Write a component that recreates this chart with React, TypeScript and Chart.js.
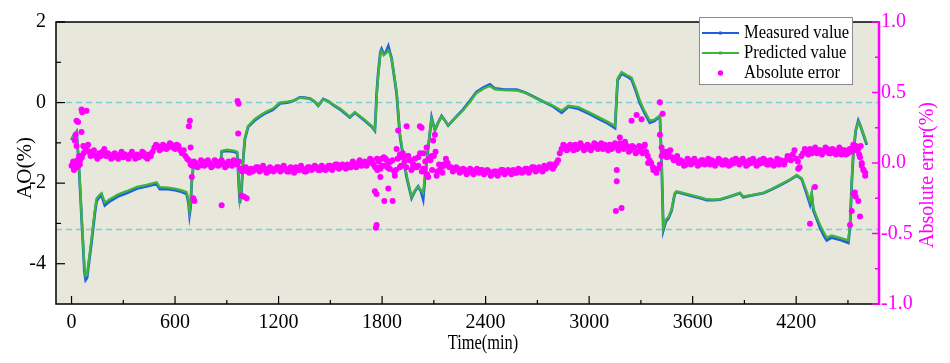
import React, { useEffect, useRef } from 'react';
import { Chart, registerables } from 'chart.js';
Chart.register(...registerables);

// ---------- data ----------
const lineT = [0, 10, 29, 40, 48, 60, 75, 82, 90, 100, 115, 125, 135, 145, 160, 174, 193, 222, 268, 319, 380, 435, 493, 512, 560, 607, 640, 667, 678, 684, 690, 696, 705, 760, 820, 865, 870, 900, 940, 960, 968, 975, 985, 995, 1005, 1024, 1060, 1092, 1130, 1167, 1208, 1250, 1285, 1323, 1350, 1382, 1410, 1430, 1459, 1490, 1517, 1560, 1613, 1642, 1700, 1740, 1758, 1763, 1768, 1777, 1790, 1797, 1810, 1822, 1836, 1845, 1855, 1870, 1884, 1903, 1920, 1942, 1971, 1990, 2009, 2025, 2038, 2050, 2067, 2087, 2106, 2125, 2145, 2165, 2183, 2230, 2270, 2310, 2348, 2390, 2425, 2454, 2500, 2580, 2630, 2676, 2730, 2792, 2841, 2879, 2937, 3000, 3063, 3110, 3150, 3158, 3165, 3188, 3220, 3246, 3270, 3294, 3320, 3352, 3380, 3410, 3420, 3430, 3445, 3459, 3478, 3490, 3497, 3507, 3550, 3604, 3650, 3681, 3720, 3758, 3820, 3874, 3893, 3950, 4009, 4060, 4106, 4160, 4203, 4232, 4260, 4280, 4290, 4300, 4320, 4338, 4360, 4377, 4406, 4450, 4502, 4512, 4522, 4531, 4545, 4560, 4570, 4590, 4609];

const measured = [-0.93, -0.85, -0.73, -1.40, -2.00, -3.00, -4.20, -4.40, -4.35, -4.00, -3.50, -3.13, -2.75, -2.45, -2.35, -2.30, -2.55, -2.45, -2.33, -2.25, -2.13, -2.08, -2.02, -2.15, -2.15, -2.18, -2.22, -2.27, -2.50, -2.78, -2.60, -2.00, -1.62, -1.58, -1.55, -1.52, -1.22, -1.20, -1.22, -1.25, -1.90, -2.50, -2.20, -1.40, -0.90, -0.60, -0.45, -0.35, -0.25, -0.18, -0.02, 0.00, 0.04, 0.13, 0.12, 0.10, 0.02, -0.08, 0.09, 0.03, -0.06, -0.18, -0.37, -0.25, -0.45, -0.60, -0.70, -0.30, 0.20, 0.71, 1.25, 1.33, 1.20, 1.25, 1.40, 1.25, 1.10, 0.65, 0.23, -0.81, -1.30, -1.85, -2.37, -2.20, -2.08, -2.20, -2.40, -1.80, -1.13, -0.37, -0.69, -0.50, -0.33, -0.45, -0.57, -0.35, -0.17, 0.05, 0.27, 0.38, 0.45, 0.35, 0.33, 0.32, 0.25, 0.15, 0.03, -0.10, -0.25, -0.10, -0.15, -0.28, -0.42, -0.52, -0.63, 0.00, 0.55, 0.72, 0.65, 0.57, 0.30, -0.01, -0.25, -0.50, -0.45, -0.33, -1.50, -3.17, -2.95, -2.88, -2.68, -2.40, -2.26, -2.22, -2.27, -2.33, -2.38, -2.42, -2.42, -2.41, -2.33, -2.25, -2.35, -2.30, -2.25, -2.15, -2.05, -1.93, -1.81, -1.90, -2.25, -2.52, -2.28, -2.68, -2.90, -3.10, -3.30, -3.42, -3.35, -3.40, -3.48, -3.10, -2.00, -1.29, -0.70, -0.45, -0.55, -0.80, -1.05];

const predicted = [-0.90, -0.82, -0.72, -1.35, -1.95, -2.95, -4.10, -4.30, -4.28, -3.92, -3.42, -3.05, -2.68, -2.38, -2.30, -2.25, -2.48, -2.40, -2.28, -2.20, -2.09, -2.04, -1.98, -2.10, -2.11, -2.14, -2.18, -2.22, -2.45, -2.70, -2.55, -1.98, -1.60, -1.56, -1.53, -1.50, -1.20, -1.17, -1.19, -1.22, -1.85, -2.42, -2.15, -1.38, -0.88, -0.58, -0.42, -0.32, -0.22, -0.15, 0.00, 0.02, 0.05, 0.12, 0.11, 0.10, 0.03, -0.07, 0.08, 0.03, -0.05, -0.16, -0.35, -0.24, -0.43, -0.58, -0.68, -0.35, 0.10, 0.65, 1.20, 1.28, 1.18, 1.22, 1.30, 1.22, 1.08, 0.68, 0.28, -0.75, -1.25, -1.80, -2.35, -2.18, -2.08, -2.18, -2.25, -1.75, -1.10, -0.40, -0.68, -0.50, -0.34, -0.45, -0.56, -0.36, -0.19, 0.02, 0.24, 0.35, 0.41, 0.33, 0.31, 0.30, 0.24, 0.14, 0.03, -0.08, -0.20, -0.08, -0.11, -0.24, -0.38, -0.48, -0.58, 0.05, 0.60, 0.76, 0.68, 0.62, 0.36, 0.05, -0.20, -0.45, -0.42, -0.32, -1.45, -3.12, -2.90, -2.85, -2.65, -2.38, -2.24, -2.20, -2.25, -2.31, -2.36, -2.40, -2.41, -2.40, -2.32, -2.24, -2.33, -2.29, -2.24, -2.14, -2.04, -1.92, -1.80, -1.88, -2.20, -2.45, -2.25, -2.62, -2.85, -3.03, -3.22, -3.35, -3.30, -3.35, -3.42, -3.05, -1.95, -1.25, -0.68, -0.48, -0.55, -0.78, -1.02];

// absolute error, one value every errStep minutes from errStart (A) and errStartB (B)
const errStart = 0;
const errStartB = 10;
const errStep = 20;
const errBand = [
  -0.02, 0.00, -0.02, 0.04, 0.10, 0.08, 0.06, 0.05, 0.07, 0.08,
  0.05, 0.06, 0.04, 0.05, 0.06, 0.04, 0.05, 0.06, 0.05, 0.06,
  0.05, 0.07, 0.03, 0.05, 0.11, 0.12, 0.10, 0.12, 0.11, 0.13,
  0.10, 0.12, 0.07, 0.05, 0.02, -0.02, 0.00, -0.02, 0.01, -0.01,
  0.00, -0.02, 0.01, -0.01, 0.00, -0.02, 0.00, 0.02, -0.01, -0.04,
  -0.05, -0.06, -0.04, -0.05, -0.03, -0.05, -0.04, -0.06, -0.04, -0.05,
  -0.03, -0.05, -0.04, -0.06, -0.04, -0.03, -0.05, -0.04, -0.06, -0.03,
  -0.04, -0.03, -0.05, -0.03, -0.04, -0.02, -0.03, -0.01, -0.03, -0.02,
  -0.01, -0.03, -0.01, 0.00, -0.02, 0.01, 0.00, 0.02, -0.03, 0.01,
  -0.02, 0.03, -0.04, 0.02, -0.05, 0.04, 0.07, -0.03, 0.02, -0.02,
  -0.03, 0.07, -0.04, -0.08, 0.02, 0.05, -0.06, -0.04, -0.02, 0.00,
  -0.03, -0.05, -0.04, -0.06, -0.05, -0.07, -0.05, -0.06, -0.07, -0.05,
  -0.07, -0.06, -0.08, -0.06, -0.07, -0.05, -0.07, -0.06, -0.05, -0.07,
  -0.05, -0.06, -0.04, -0.05, -0.03, -0.05, -0.04, -0.02, -0.03, -0.01,
  -0.02, 0.02, 0.10, 0.12, 0.10, 0.11, 0.13, 0.11, 0.12, 0.10,
  0.12, 0.11, 0.13, 0.12, 0.10, 0.12, 0.13, 0.11, 0.12, 0.14,
  0.10, 0.12, 0.09, 0.11, 0.08, 0.10, 0.12, 0.05, 0.00, -0.05,
  -0.04, 0.05, 0.07, 0.06, 0.04, 0.02, 0.00, 0.01, -0.01, 0.02,
  0.00, 0.01, -0.01, 0.02, 0.00, -0.01, 0.01, 0.00, 0.02, -0.01,
  0.01, -0.01, 0.00, 0.02, 0.00, 0.01, -0.01, 0.00, 0.01, -0.01,
  0.00, 0.02, -0.01, 0.01, 0.00, -0.01, 0.01, 0.02, 0.04, 0.06,
  0.03, -0.03, 0.07, 0.09, 0.10, 0.08, 0.07, 0.09, 0.08, 0.10,
  0.07, 0.09, 0.08, 0.06, 0.09, 0.07, 0.08, 0.12, 0.10, -0.02,
  -0.07,
];
const errBandB = [
  0.01, -0.03, 0.02, 0.07, 0.12, 0.05, 0.09, 0.03, 0.05, 0.10,
  0.07, 0.03, 0.07, 0.03, 0.08, 0.06, 0.03, 0.08, 0.03, 0.04,
  0.08, 0.04, 0.06, 0.08, 0.13, 0.09, 0.13, 0.10, 0.14, 0.11,
  0.13, 0.09, 0.09, 0.03, -0.01, 0.01, -0.03, 0.02, -0.02, 0.02,
  -0.03, 0.02, -0.02, 0.02, -0.03, 0.01, -0.02, 0.00, 0.01, -0.06,
  -0.03, -0.07, -0.06, -0.03, -0.06, -0.02, -0.07, -0.03, -0.06, -0.03,
  -0.06, -0.02, -0.06, -0.03, -0.07, -0.05, -0.02, -0.06, -0.03, -0.05,
  -0.02, -0.05, -0.02, -0.05, -0.02, -0.05, -0.01, -0.04, -0.01, -0.04,
  -0.03, 0.01, -0.03, 0.02, 0.00, -0.02, 0.03, -0.01, 0.03, -0.04,
  0.04, -0.03, 0.01, -0.06, 0.03, -0.02, 0.01, 0.05, -0.05, 0.03,
  0.04, -0.06, 0.01, 0.03, -0.05, 0.08, -0.01, -0.07, 0.03, -0.03,
  -0.06, -0.03, -0.07, -0.04, -0.08, -0.04, -0.08, -0.04, -0.05, -0.08,
  -0.05, -0.09, -0.06, -0.09, -0.05, -0.08, -0.05, -0.08, -0.07, -0.04,
  -0.07, -0.04, -0.07, -0.03, -0.06, -0.03, -0.06, -0.04, -0.01, -0.04,
  0.00, 0.07, 0.13, 0.09, 0.13, 0.09, 0.10, 0.14, 0.09, 0.13,
  0.09, 0.14, 0.10, 0.14, 0.13, 0.09, 0.10, 0.14, 0.09, 0.11,
  0.13, 0.08, 0.12, 0.07, 0.12, 0.07, 0.08, 0.02, -0.03, -0.07,
  -0.01, 0.08, 0.04, 0.09, 0.02, 0.05, 0.02, -0.02, 0.03, -0.01,
  0.03, -0.02, 0.02, -0.01, 0.03, 0.02, -0.02, 0.03, -0.01, 0.02,
  -0.02, 0.02, 0.03, -0.01, 0.03, -0.02, 0.02, 0.03, -0.02, 0.02,
  0.03, -0.01, 0.02, -0.02, 0.03, 0.02, -0.01, 0.05, 0.02, 0.09,
  0.01, 0.05, 0.10, 0.06, 0.07, 0.11, 0.09, 0.06, 0.11, 0.07,
  0.10, 0.06, 0.11, 0.09, 0.06, 0.10, 0.11, 0.09, 0.04, -0.05,
];

const errOutT = [9, 14, 19, 19, 24, 29, 29, 34, 38, 44, 48, 58, 58, 62, 68, 87, 96, 106,
  680, 686, 690, 697, 705, 712, 870, 962, 968, 966, 985, 1000, 1015,
  1758, 1764, 1768, 1768, 1772, 1787, 1790, 1797, 1807, 1813, 1826, 1836, 1836, 1845, 1861, 1874, 1884, 1893, 1903, 1903, 1923, 1942, 1952, 1962, 1981, 1990, 2009, 2019, 2029, 2040, 2048, 2058, 2058, 2067, 2087, 2096, 2106, 2116, 2135, 2154, 2174,
  3155, 3160, 3160, 3178, 3188, 3208, 3246, 3275, 3304, 3323, 3342, 3372, 3410, 3426, 3410, 3420, 3440, 3449,
  4212, 4280, 4309,
  4512, 4522, 4531, 4540, 4545, 4560, 4570, 4531, 4545, 4555, 4574, 4580, 4590, 4600, 4565];
const errOutV = [0.00, -0.05, 0.16, -0.03, 0.20, 0.30, 0.12, 0.02, 0.29, 0.05, -0.01, 0.38, 0.22, 0.36, 0.12, 0.37, 0.13, 0.08,
  0.26, 0.30, 0.11, -0.10, -0.25, -0.27, -0.30, 0.44, 0.42, 0.21, -0.23, -0.24, -0.25,
  -0.20, -0.46, -0.44, -0.22, -0.05, -0.03, -0.10, 0.03, -0.02, -0.27, 0.02, -0.18, 0.00, -0.04, -0.27, -0.09, 0.10, 0.23, 0.06, -0.03, 0.04, 0.26, 0.05, 0.02, -0.01, -0.03, -0.02, 0.26, 0.25, 0.07, -0.04, 0.11, -0.08, -0.10, 0.05, 0.16, 0.20, -0.09, -0.05, -0.01, 0.00,
  -0.34, -0.05, -0.13, 0.18, -0.32, 0.15, 0.30, 0.34, 0.31, 0.13, 0.00, -0.05, 0.43, 0.35, 0.20, 0.11, 0.06, 0.08,
  -0.04, -0.43, -0.17,
  -0.44, -0.34, -0.22, -0.21, -0.24, -0.27, -0.38, 0.13, 0.12, 0.11, 0.12, 0.00, -0.05, -0.09, 0.06];

const refLines = [0, -3.15];
const xTicks = [0, 600, 1200, 1800, 2400, 3000, 3600, 4200];
const xMinor = [300, 900, 1500, 2100, 2700, 3300, 3900, 4500];
const yTicks = [2, 0, -2, -4];
const yMinor = [1, -1, -3];
const y1Ticks = [1, 0.5, 0, -0.5, -1];
const y1Minor = [0.75, 0.25, -0.25, -0.75];

const seriesNames = ['Measured value', 'Predicted value', 'Absolute error'];

// ---------- styles ----------
const BLUE = '#1f5fe0';
const GREEN = '#3db53d';
const MAGENTA = '#ff00ff';
const CYAN = '#7ccfd8';
const BG = '#e7e7dc';
const SERIF = '"Liberation Serif", "Times New Roman", serif';

function drawText(ctx: CanvasRenderingContext2D, s: string, x: number, y: number, size: number, color: string, align: CanvasTextAlign, sx = 1, rot = 0) {
  ctx.save();
  ctx.translate(x, y);
  if (rot) ctx.rotate(rot);
  ctx.scale(sx, 1);
  ctx.font = `${size}px ${SERIF}`;
  ctx.fillStyle = color;
  ctx.textAlign = align;
  ctx.textBaseline = 'middle';
  ctx.fillText(s, 0, 0);
  ctx.restore();
}

const decor = {
  id: 'decor',
  beforeDraw(chart: any) {
    const { ctx, chartArea: a } = chart;
    ctx.save();
    ctx.fillStyle = BG;
    ctx.fillRect(a.left, a.top, a.right - a.left, a.bottom - a.top);
    ctx.restore();
  },
  beforeDatasetsDraw(chart: any) {
    const { ctx, chartArea: a } = chart;
    const ys = chart.scales.y;
    ctx.save();
    ctx.strokeStyle = CYAN;
    ctx.lineWidth = 1.5;
    ctx.setLineDash([6, 4]);
    refLines.forEach((v) => {
      const py = ys.getPixelForValue(v);
      ctx.beginPath();
      ctx.moveTo(a.left, py);
      ctx.lineTo(a.right, py);
      ctx.stroke();
    });
    ctx.restore();
  },
  afterDraw(chart: any) {
    const { ctx, chartArea: a } = chart;
    const xs = chart.scales.x;
    const ys = chart.scales.y;
    const y1 = chart.scales.y1;
    ctx.save();
    ctx.strokeStyle = '#000';
    ctx.lineWidth = 1.5;
    ctx.beginPath();
    ctx.moveTo(a.right, a.top);
    ctx.lineTo(a.left, a.top);
    ctx.lineTo(a.left, a.bottom);
    ctx.lineTo(a.right, a.bottom);
    ctx.stroke();
    const tick = (x1: number, y1p: number, x2: number, y2: number) => {
      ctx.beginPath();
      ctx.moveTo(x1, y1p);
      ctx.lineTo(x2, y2);
      ctx.stroke();
    };
    ctx.lineWidth = 1.2;
    xTicks.forEach((v) => { const px = xs.getPixelForValue(v); tick(px, a.bottom, px, a.bottom - 8); });
    xMinor.forEach((v) => { const px = xs.getPixelForValue(v); tick(px, a.bottom, px, a.bottom - 4); });
    yTicks.forEach((v) => { const py = ys.getPixelForValue(v); tick(a.left, py, a.left + 9, py); });
    yMinor.forEach((v) => { const py = ys.getPixelForValue(v); tick(a.left, py, a.left + 5, py); });
    ctx.strokeStyle = MAGENTA;
    ctx.lineWidth = 1.5;
    y1Ticks.forEach((v) => { const py = y1.getPixelForValue(v); tick(a.right, py, a.right - 7, py); });
    y1Minor.forEach((v) => { const py = y1.getPixelForValue(v); tick(a.right, py, a.right - 4, py); });
    ctx.lineWidth = 2.5;
    tick(a.right, a.top - 1, a.right, a.bottom + 1);

    drawText(ctx, 'AO(%)', 25, (a.top + a.bottom) / 2 + 5, 21, '#000', 'center', 1, -Math.PI / 2);
    drawText(ctx, 'Absolute error(%)', 928, (a.top + a.bottom) / 2 + 12, 20, MAGENTA, 'center', 1, -Math.PI / 2);
    drawText(ctx, 'Time(min)', 483, 344, 20, '#000', 'center', 0.82);

    const lx = 699, ly = 17, lw = 153, lh = 67;
    ctx.fillStyle = '#ffffff';
    ctx.fillRect(lx, ly, lw, lh);
    ctx.strokeStyle = '#8a8a8a';
    ctx.lineWidth = 1;
    ctx.strokeRect(lx + 0.5, ly + 0.5, lw, lh);
    const rows = [33, 53, 73];
    const cols = [BLUE, GREEN, MAGENTA];
    rows.forEach((ry, i) => {
      if (i < 2) {
        ctx.strokeStyle = cols[i];
        ctx.lineWidth = 1.8;
        tick(702, ry, 739, ry);
        ctx.fillStyle = cols[i];
        ctx.fillRect(719, ry - 1.5, 3, 3);
      } else {
        ctx.fillStyle = MAGENTA;
        ctx.beginPath();
        ctx.arc(720.5, ry, 2.7, 0, Math.PI * 2);
        ctx.fill();
      }
      drawText(ctx, seriesNames[i], 744, ry, 19, '#000', 'left', 0.87);
    });
    ctx.restore();
  },
};

export default function App() {
  const ref = useRef<HTMLCanvasElement | null>(null);
  useEffect(() => {
    if (!ref.current) return;
    const measuredPts = lineT.map((t, i) => ({ x: t, y: measured[i] }));
    const predictedPts = lineT.map((t, i) => ({ x: t, y: predicted[i] }));
    const errPts = errBand.map((v, i) => ({ x: errStart + i * errStep, y: v }))
      .concat(errBandB.map((v, i) => ({ x: errStartB + i * errStep, y: v })))
      .concat(errOutT.map((t, i) => ({ x: t, y: errOutV[i] })));
    const tickFont = { family: SERIF, size: 20 };
    const chart = new Chart(ref.current, {
      type: 'line',
      data: {
        datasets: [
          {
            label: seriesNames[2],
            data: errPts,
            yAxisID: 'y1',
            showLine: false,
            pointRadius: 3,
            pointBorderWidth: 0,
            pointBackgroundColor: MAGENTA,
            backgroundColor: MAGENTA,
            borderColor: MAGENTA,
          },
          {
            label: seriesNames[1],
            data: predictedPts,
            yAxisID: 'y',
            borderColor: GREEN,
            backgroundColor: GREEN,
            borderWidth: 2.3,
            pointRadius: 0,
            tension: 0,
          },
          {
            label: seriesNames[0],
            data: measuredPts,
            yAxisID: 'y',
            borderColor: BLUE,
            backgroundColor: BLUE,
            borderWidth: 2.8,
            pointRadius: 0,
            tension: 0,
          },
        ],
      },
      options: {
        animation: false,
        responsive: true,
        maintainAspectRatio: false,
        layout: { padding: { top: 13, left: 0, right: 0, bottom: 0 } },
        plugins: { legend: { display: false }, tooltip: { enabled: false } },
        scales: {
          x: {
            type: 'linear',
            min: -90,
            max: 4680,
            grid: { display: false, drawTicks: false },
            border: { display: false },
            ticks: { font: tickFont, color: '#000', padding: 7, maxRotation: 0, autoSkip: false, callback: (v: any) => String(v) },
            afterBuildTicks: (s: any) => { s.ticks = xTicks.map((v) => ({ value: v })); },
            afterFit: (s: any) => { s.height = 59; },
          },
          y: {
            type: 'linear',
            position: 'left',
            min: -5,
            max: 2,
            grid: { display: false, drawTicks: false },
            border: { display: false },
            ticks: { font: tickFont, color: '#000', padding: 10, autoSkip: false, callback: (v: any) => String(v) },
            afterBuildTicks: (s: any) => { s.ticks = yTicks.map((v) => ({ value: v })); },
            afterFit: (s: any) => { s.width = 56; },
          },
          y1: {
            type: 'linear',
            position: 'right',
            min: -1,
            max: 1,
            grid: { display: false, drawTicks: false },
            border: { display: false },
            ticks: {
              font: tickFont,
              color: MAGENTA,
              padding: 2,
              autoSkip: false,
              callback: (v: any) => Number(v).toFixed(1),
            },
            afterBuildTicks: (s: any) => { s.ticks = y1Ticks.map((v) => ({ value: v })); },
            afterFit: (s: any) => { s.width = 71; },
          },
        },
      },
      plugins: [decor],
    } as any);
    return () => chart.destroy();
  }, []);
  return (
    <div style={{ position: 'fixed', left: 0, top: 0, width: 950, height: 363, background: '#fff' }}>
      <canvas ref={ref} />
    </div>
  );
}
